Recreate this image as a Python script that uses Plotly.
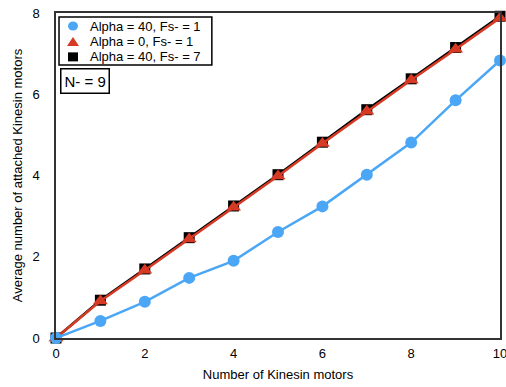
import plotly.graph_objects as go

motors = [0, 1, 2, 3, 4, 5, 6, 7, 8, 9, 10]
alpha40_fs1 = [0, 0.42, 0.89, 1.48, 1.9, 2.61, 3.24, 4.02, 4.81, 5.85, 6.83]
alpha0_fs1 = [0, 0.91, 1.67, 2.44, 3.22, 3.99, 4.79, 5.58, 6.35, 7.11, 7.88]
alpha40_fs7 = [0, 0.93, 1.70, 2.47, 3.25, 4.02, 4.82, 5.62, 6.38, 7.15, 7.92]

legend_labels = ["Alpha = 40, Fs- = 1", "Alpha = 0, Fs- = 1", "Alpha = 40, Fs- = 7"]

FONT = "Liberation Sans, Arial, Helvetica, sans-serif"
BLUE, RED, BLACK = "#4ba7f5", "#d63a24", "black"

series = [
    # drawn bottom-to-top: black, red, blue
    (legend_labels[2], alpha40_fs7, BLACK, "square", 11),
    (legend_labels[1], alpha0_fs1, RED, "triangle-up", 13),
    (legend_labels[0], alpha40_fs1, BLUE, "circle", 12),
]

fig = go.Figure()
for name, vals, color, symbol, size in series:
    fig.add_trace(go.Scatter(
        x=motors, y=vals, mode="lines+markers", name=name,
        line=dict(color=color, width=2.5),
        marker=dict(symbol=symbol, size=size, color=color),
        cliponaxis=False, showlegend=False,
    ))

# ---- hand-built legend box (compact rows, marker-only keys) ----
row_y = [0.96, 0.911, 0.865]
key_x = 0.0383
text_x = 0.072
fig.add_shape(type="rect", xref="paper", yref="paper",
              x0=0.0068, x1=0.351, y0=0.84, y1=0.9877,
              line=dict(color="black", width=1.5), fillcolor="white", layer="above")

# circle key
fig.add_shape(type="circle", xref="paper", yref="paper",
              xsizemode="pixel", ysizemode="pixel", xanchor=key_x, yanchor=row_y[0],
              x0=-5, x1=5, y0=-4.5, y1=4.5, fillcolor=BLUE, line=dict(width=0), layer="above")
# triangle key
fig.add_shape(type="path", xref="paper", yref="paper",
              xsizemode="pixel", ysizemode="pixel", xanchor=key_x, yanchor=row_y[1],
              path="M -6 -4 L 6 -4 L 0 5 Z", fillcolor=RED, line=dict(width=0), layer="above")
# square key
fig.add_shape(type="rect", xref="paper", yref="paper",
              xsizemode="pixel", ysizemode="pixel", xanchor=key_x, yanchor=row_y[2],
              x0=-5, x1=5, y0=-4.5, y1=4.5, fillcolor=BLACK, line=dict(width=0), layer="above")

for label, yy in zip(legend_labels, row_y):
    fig.add_annotation(x=text_x, y=yy, xref="paper", yref="paper",
                       xanchor="left", yanchor="middle", text=label, showarrow=False,
                       font=dict(size=13, color="black", family=FONT))

fig.add_annotation(
    x=0.009, y=0.831, xref="paper", yref="paper", xanchor="left", yanchor="top",
    text="N- = 9", showarrow=False, bordercolor="black", borderwidth=1.5,
    borderpad=3, bgcolor="white", font=dict(size=15, color="black", family=FONT),
)

axis_common = dict(
    showgrid=False, zeroline=False, showline=True, linecolor="#333", linewidth=1.5,
    mirror=True, ticks="outside", ticklen=0, automargin=False,
    ticklabeloverflow="allow",
    tickfont=dict(size=13, color="black", family=FONT),
)
fig.update_layout(
    width=506, height=387,
    margin=dict(l=56, r=6, t=13, b=49),
    paper_bgcolor="white", plot_bgcolor="white",
    font=dict(family=FONT, color="black"),
    xaxis=dict(range=[0, 10], tickvals=[0, 2, 4, 6, 8, 10], ticklabelstandoff=3,
               title=dict(text="Number of Kinesin motors", font=dict(size=13), standoff=10),
               **axis_common),
    yaxis=dict(range=[0, 8], tickvals=[0, 2, 4, 6, 8], ticklabelstandoff=12,
               title=dict(text="Average number of attached Kinesin motors", font=dict(size=13), standoff=7),
               **axis_common),
    showlegend=False,
)

fig.write_html("out.html")
